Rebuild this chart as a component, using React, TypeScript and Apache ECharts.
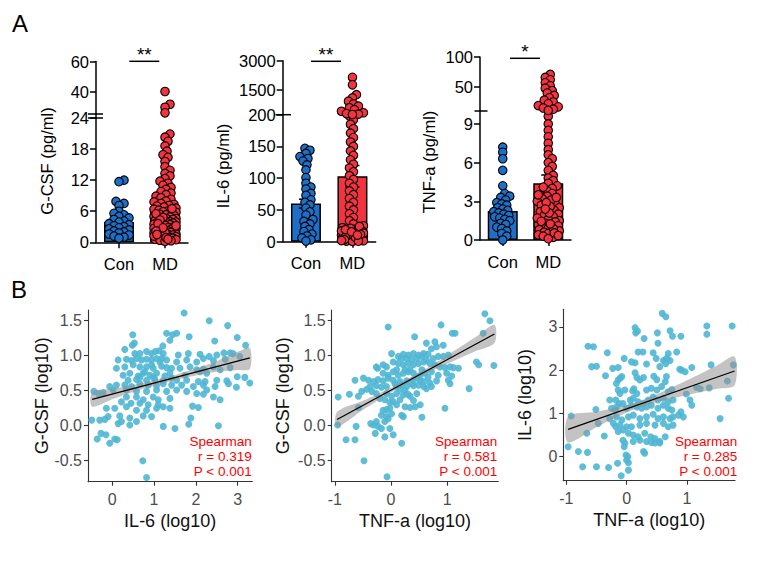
import React, { useEffect, useRef } from "react";
import * as echarts from "echarts";

const FONT = "'Liberation Sans', Arial, Helvetica, sans-serif";

// ---------- Panel A: cytokine levels by group ----------
const groups = ["Con", "MD"];
const groupColors = ["#1d6fc8", "#f5333f"];

// G-CSF (pg/ml)
const gcsfCon = [12.0, 11.7, 7.9, 7.5, 7.1, 6.0, 5.6, 5.3, 5.0, 4.7, 4.4, 4.1, 3.9, 3.6, 3.4, 3.2, 3.0, 2.8, 2.6, 2.4, 2.2, 2.0, 1.8, 1.6, 1.4, 1.2, 1.0, 0.8];
const gcsfMD = [40.0, 31.5, 29.5, 25.8, 20.9, 20.3, 19.5, 18.6, 17.6, 16.9, 16.4, 15.6, 14.6, 13.9, 13.3, 12.8, 12.3, 11.8, 11.4, 11.0, 10.6, 10.2, 9.8, 9.5, 9.2, 8.9, 8.6, 8.3, 8.0, 7.8, 7.5, 7.3, 7.1, 7.0, 6.8, 6.6, 6.4, 6.2, 6.0, 5.9, 5.8, 5.6, 5.4, 5.3, 5.2, 5.0, 4.9, 4.7, 4.6, 4.5, 4.4, 4.2, 4.1, 4.0, 3.9, 3.8, 3.7, 3.6, 3.5, 3.4, 3.3, 3.1, 3.0, 2.9, 2.8, 2.7, 2.6, 2.5, 2.4, 2.3, 2.2, 2.1, 2.0, 1.9, 1.8, 1.7, 1.6, 1.5, 1.4, 1.3, 1.2, 1.1, 1.0, 0.9, 0.8, 0.7, 0.6, 0.5, 0.4, 0.3, 0.2, 6.5, 5.5, 4.8, 4.3, 3.2, 2.6, 1.9, 1.2, 0.9, 0.6, 3.6, 2.8, 2.2, 1.5];
const gcsfMean = [3.9, 6.0];
const gcsfSem = [0.45, 0.5];
const gcsfLowerRange = [0, 24];
const gcsfUpperRange = [25, 60];
const gcsfLowerTicks = [0, 6, 12, 18, 24];
const gcsfUpperTicks = [40, 60];

// IL-6 (pg/ml)
const il6Con = [147, 144, 139, 134, 131, 127, 121, 113, 101, 92, 86, 83, 76, 73, 66, 62, 58, 53, 47, 42, 35, 32, 28, 24, 19, 16, 12, 9, 6, 3, 1];
const il6MD = [2140, 1750, 1240, 1070, 900, 760, 640, 560, 460, 380, 300, 260, 230, 210, 198, 192, 185, 178, 171, 164, 157, 150, 143, 136, 129, 122, 116, 110, 104, 98, 92, 86, 80, 74, 68, 62, 56, 50, 44, 38, 33, 28, 25, 22, 20, 18, 16, 15, 14, 13, 12, 11, 10, 9, 8, 7, 6, 5.5, 5, 4.5, 4, 3.5, 3, 2.5, 2, 1.5, 1, 0.5, 24, 21, 17, 13.5, 11.5, 9.5, 7.5, 6.5, 3.2, 1.8, 0.8, 19, 15.5, 10.5];
const il6Mean = [60, 103];
const il6Sem = [7, 17];
const il6LowerRange = [0, 200];
const il6UpperRange = [200, 3000];
const il6LowerTicks = [0, 50, 100, 150, 200];
const il6UpperTicks = [1500, 3000];

// TNF-a (pg/ml)
const tnfCon = [7.2, 6.8, 6.3, 5.4, 4.2, 3.6, 3.4, 3.3, 3.1, 2.9, 2.8, 2.7, 2.5, 2.4, 2.3, 2.2, 2.1, 2.0, 1.9, 1.8, 1.7, 1.6, 1.5, 1.3, 1.2, 1.0, 0.9, 0.7, 0.5, 0.3, 0.0];
const tnfMD = [71, 66, 62, 57, 52, 48, 44, 40, 36, 32, 28, 25, 22, 19, 17, 15, 13, 11, 9.6, 9.0, 8.5, 8.0, 7.5, 7.0, 6.6, 6.3, 6.0, 5.7, 5.4, 5.0, 4.8, 4.6, 4.4, 4.2, 4.0, 3.8, 3.6, 3.4, 3.2, 3.0, 2.8, 2.7, 2.5, 2.3, 2.2, 2.0, 1.9, 1.8, 1.6, 1.5, 1.4, 1.3, 1.2, 1.1, 1.0, 0.9, 0.8, 0.7, 0.6, 0.5, 0.4, 0.3, 0.2, 0.1, 3.1, 2.6, 1.7, 0.9, 2.1, 3.5, 1.25, 0.55, 4.1, 2.9, 1.45, 0.35, 2.4, 3.3];
const tnfMean = [2.25, 4.4];
const tnfSem = [0.3, 0.64];
const tnfLowerRange = [0, 10];
const tnfUpperRange = [10, 100];
const tnfLowerTicks = [0, 3, 6, 9];
const tnfUpperTicks = [50, 100];

// ---------- Panel B: log10 correlations ----------
// x = IL-6 (log10), y = G-CSF (log10)
const il6VsGcsf = [
  [1.72, 1.60], [2.32, 1.49], [2.76, 1.42], [1.30, 1.31], [1.44, 1.29], [1.54, 1.31], [0.49, 1.29], [0.53, 1.17], [0.48, 1.14], [1.84, 1.26],
  [2.45, 1.20], [2.99, 1.25], [3.19, 1.14], [1.38, 1.21], [1.21, 1.13], [0.30, 1.08], [0.54, 1.02], [0.66, 1.02], [0.82, 1.05], [0.94, 1.02],
  [1.03, 1.05], [1.12, 1.06], [1.22, 1.02], [1.58, 1.00], [1.82, 1.02], [2.10, 1.01], [2.32, 0.98], [2.50, 1.00], [2.67, 1.03], [2.82, 1.03],
  [2.89, 1.02], [3.05, 0.98], [0.14, 0.93], [0.34, 0.94], [0.46, 0.92], [0.58, 0.95], [0.70, 0.93], [0.82, 0.94], [0.94, 0.93], [1.06, 0.95],
  [1.18, 0.95], [1.30, 0.93], [1.54, 0.90], [1.78, 0.93], [2.02, 0.90], [2.18, 0.95], [2.42, 0.92], [2.70, 0.94], [0.10, 0.81], [0.30, 0.83],
  [0.50, 0.86], [0.66, 0.83], [0.82, 0.83], [0.98, 0.81], [1.18, 0.84], [1.30, 0.82], [1.42, 0.81], [1.62, 0.81], [1.86, 0.83], [2.02, 0.79],
  [2.18, 0.80], [2.42, 0.83], [2.58, 0.79], [2.82, 0.82], [0.26, 0.71], [0.42, 0.74], [0.62, 0.70], [0.74, 0.74], [0.90, 0.71], [1.06, 0.74],
  [1.26, 0.70], [1.38, 0.74], [1.74, 0.71], [2.10, 0.76], [2.26, 0.74], [0.38, 0.64], [0.58, 0.65], [0.82, 0.64], [1.02, 0.65], [1.22, 0.64],
  [1.42, 0.67], [1.54, 0.64], [1.78, 0.64], [2.06, 0.62], [2.22, 0.62], [2.50, 0.64], [2.74, 0.63], [2.99, 0.69], [3.17, 0.68], [-0.06, 0.55],
  [0.10, 0.57], [0.30, 0.57], [0.46, 0.55], [0.66, 0.59], [0.86, 0.57], [1.06, 0.56], [1.22, 0.59], [1.42, 0.57], [1.66, 0.57], [1.94, 0.55],
  [2.18, 0.57], [2.46, 0.55], [2.78, 0.59], [2.97, 0.54], [3.29, 0.60], [-0.44, 0.48], [-0.33, 0.45], [-0.22, 0.46], [0.02, 0.50], [0.34, 0.50],
  [0.58, 0.48], [0.82, 0.48], [1.06, 0.50], [1.30, 0.48], [1.54, 0.50], [1.78, 0.48], [2.02, 0.45], [2.26, 0.50], [0.34, 0.40], [0.58, 0.40],
  [0.74, 0.36], [0.98, 0.40], [1.10, 0.36], [1.38, 0.38], [2.18, 0.44], [2.42, 0.40], [2.58, 0.36], [0.22, 0.33], [0.45, 0.31], [0.66, 0.31],
  [0.86, 0.29], [1.10, 0.29], [1.22, 0.26], [1.38, 0.24], [0.34, 0.26], [0.58, 0.21], [0.82, 0.21], [1.06, 0.24], [1.92, 0.27], [2.06, 0.25],
  [-0.14, 0.24], [0.06, 0.24], [-0.10, 0.12], [0.18, 0.13], [0.42, 0.10], [0.74, 0.13], [0.94, 0.12], [-0.30, 0.07], [-0.18, 0.08], [1.88, 0.10],
  [-0.49, 0.07], [-0.36, -0.20], [-0.27, -0.12], [-0.15, -0.14], [-0.06, -0.26], [0.06, -0.20], [0.12, -0.21], [0.14, 0.02], [0.22, 0.05], [0.42, 0.00],
  [0.58, 0.05], [1.22, -0.02], [1.50, -0.05], [1.83, 0.01], [2.54, -0.01], [0.73, -0.51], [0.82, -0.75], [0.66, 0.68], [0.98, 0.68], [0.78, 0.76],
  [0.94, 0.86], [1.14, 0.90],
];
const fit1X = [-0.48, 3.29];
const fit1Y = [0.367, 0.96];
const band1X = [-0.48, 0.0, 0.5, 1.0, 1.5, 2.0, 2.5, 3.0, 3.29];
const band1Hi = [0.472, 0.517, 0.571, 0.638, 0.715, 0.807, 0.91, 1.045, 1.1];
const band1Lo = [0.262, 0.367, 0.471, 0.562, 0.641, 0.707, 0.76, 0.785, 0.8];

// x = TNF-a (log10), y = G-CSF (log10)
const tnfVsGcsf = [
  [1.67, 1.60], [1.76, 1.50], [-0.05, 1.41], [0.89, 1.44], [1.09, 1.32], [1.14, 1.32], [0.42, 1.27], [1.64, 1.32], [0.78, 1.20], [0.63, 1.18],
  [0.72, 1.10], [0.81, 1.13], [0.93, 1.15], [0.01, 1.03], [0.22, 1.02], [0.31, 1.01], [0.40, 1.03], [0.49, 1.01], [0.58, 1.03], [0.66, 1.02],
  [0.13, 0.99], [0.19, 0.96], [0.28, 0.96], [0.37, 0.94], [0.46, 0.96], [0.55, 0.99], [0.63, 0.94], [0.75, 0.96], [0.84, 0.99], [0.93, 0.99],
  [1.02, 1.01], [-0.26, 0.84], [-0.24, 0.82], [-0.14, 0.87], [-0.08, 0.84], [0.04, 0.91], [0.13, 0.89], [0.22, 0.87], [0.31, 0.89], [0.40, 0.87],
  [0.49, 0.89], [0.58, 0.91], [0.69, 0.89], [0.78, 0.87], [0.87, 0.84], [0.96, 0.83], [1.05, 0.84], [1.52, 0.91], [1.56, 0.87], [1.83, 0.86],
  [1.11, 0.83], [1.20, 0.82], [-0.14, 0.75], [-0.05, 0.72], [0.04, 0.77], [0.13, 0.72], [0.22, 0.75], [0.31, 0.77], [0.40, 0.75], [0.52, 0.72],
  [0.60, 0.75], [0.72, 0.77], [0.84, 0.72], [0.99, 0.75], [1.08, 0.71], [-0.49, 0.68], [-0.64, 0.65], [-0.40, 0.65], [-0.31, 0.63], [-0.23, 0.66],
  [-0.14, 0.64], [-0.05, 0.68], [0.04, 0.65], [0.16, 0.63], [0.28, 0.64], [0.40, 0.65], [0.52, 0.65], [0.58, 0.63], [0.69, 0.61], [0.81, 0.64],
  [1.02, 0.65], [1.05, 0.60], [-0.37, 0.56], [-0.26, 0.57], [-0.17, 0.55], [-0.08, 0.56], [0.10, 0.56], [0.19, 0.58], [0.28, 0.56], [0.40, 0.57],
  [0.49, 0.58], [0.58, 0.56], [0.63, 0.53], [0.72, 0.56], [1.39, 0.53], [-0.94, 0.41], [-0.74, 0.45], [-0.58, 0.42], [-0.52, 0.49], [-0.43, 0.52],
  [-0.34, 0.49], [-0.26, 0.46], [-0.08, 0.46], [0.01, 0.42], [0.10, 0.46], [0.22, 0.44], [0.34, 0.42], [0.46, 0.46], [-0.20, 0.39], [-0.11, 0.37],
  [0.04, 0.34], [0.16, 0.37], [0.25, 0.27], [0.34, 0.26], [0.43, 0.27], [0.52, 0.30], [0.96, 0.25], [-0.58, 0.26], [-0.14, 0.22], [-0.08, 0.23],
  [-0.02, 0.25], [-0.17, 0.15], [-0.08, 0.13], [0.01, 0.17], [0.19, 0.15], [0.22, 0.13], [0.55, 0.12], [-0.36, 0.03], [-0.26, 0.06], [-0.11, 0.06],
  [-0.05, 0.10], [-0.95, 0.01], [-0.62, -0.01], [-0.28, -0.11], [-0.11, -0.16], [0.04, -0.13], [-0.80, -0.20], [-0.64, -0.20], [0.19, -0.25], [-0.48, -0.50],
  [-0.07, -0.73], [-0.31, 0.01], [-0.23, -0.01], [-0.17, -0.04], [-0.02, -0.04], [0.25, 0.80], [0.34, 0.80], [0.10, 0.80], [0.55, 0.80], [0.66, 0.69],
  [0.46, 0.69], [0.07, 0.60], [0.37, 0.60], [0.25, 0.50], [0.16, 0.52], [-0.02, 0.33], [0.10, 0.30], [0.40, 0.36], [0.30, 0.45],
];
const fit2X = [-0.96, 1.84];
const fit2Y = [0.09, 1.31];
const band2X = [-0.96, -0.5, 0.0, 0.3, 0.6, 1.0, 1.5, 1.84];
const band2Hi = [0.195, 0.355, 0.543, 0.669, 0.805, 1.004, 1.262, 1.44];
const band2Lo = [-0.015, 0.225, 0.473, 0.609, 0.735, 0.884, 1.062, 1.18];

// x = TNF-a (log10), y = IL-6 (log10)
const tnfVsIl6 = [
  [0.59, 3.31], [0.65, 3.23], [0.14, 2.98], [0.15, 2.86], [0.18, 2.90], [1.33, 3.02], [1.75, 3.02], [1.33, 2.83], [0.29, 2.73], [0.51, 2.86],
  [0.72, 2.91], [0.76, 2.78], [0.90, 2.78], [0.52, 2.62], [-0.64, 2.55], [-0.55, 2.54], [0.19, 2.42], [0.27, 2.42], [-0.32, 2.40], [0.44, 2.40],
  [0.69, 2.38], [0.72, 2.22], [0.83, 2.42], [0.66, 2.27], [-0.58, 2.08], [-0.50, 2.09], [-0.04, 2.27], [0.08, 2.19], [0.14, 2.17], [0.49, 2.27],
  [0.61, 2.22], [0.65, 2.15], [0.55, 2.08], [-0.23, 2.04], [-0.14, 2.06], [0.33, 2.14], [0.88, 2.02], [0.91, 2.00], [0.97, 1.96], [1.08, 2.06],
  [1.40, 2.12], [1.77, 2.12], [-0.35, 1.87], [-0.11, 1.81], [-0.08, 1.85], [-0.14, 1.77], [-0.17, 1.69], [0.14, 1.94], [0.17, 1.83], [0.22, 1.77],
  [0.28, 1.83], [0.45, 1.86], [0.50, 1.78], [0.66, 1.85], [0.64, 1.73], [-0.14, 1.54], [-0.11, 1.46], [-0.03, 1.54], [0.10, 1.52], [0.12, 1.57],
  [0.17, 1.46], [0.33, 1.54], [0.41, 1.58], [0.50, 1.54], [0.58, 1.62], [0.69, 1.50], [0.75, 1.55], [1.16, 1.60], [0.99, 1.45], [1.05, 1.31],
  [1.08, 1.19], [1.22, 1.57], [1.37, 1.59], [1.67, 1.75], [-0.18, 1.31], [-0.12, 1.23], [-0.06, 1.23], [-0.19, 1.08], [0.06, 1.31], [0.11, 1.35],
  [0.19, 1.27], [0.28, 1.23], [0.36, 1.31], [0.44, 1.38], [0.52, 1.31], [0.61, 1.35], [0.69, 1.27], [0.77, 1.31], [-0.28, 1.31], [-0.51, 1.09],
  [-0.25, 1.12], [-0.17, 1.15], [0.00, 1.12], [0.08, 1.19], [0.17, 1.15], [0.25, 1.12], [0.33, 1.15], [0.41, 1.19], [0.52, 1.12], [0.61, 1.19],
  [0.69, 1.12], [0.75, 1.08], [0.90, 1.04], [0.94, 0.92], [1.69, 1.35], [1.55, 0.88], [-0.92, 0.94], [-0.28, 0.88], [-0.17, 0.92], [-0.08, 0.85],
  [0.03, 0.92], [0.11, 0.96], [0.22, 0.88], [0.33, 0.92], [0.44, 0.98], [0.52, 0.88], [0.61, 0.92], [0.72, 0.88], [0.77, 0.92], [0.86, 0.96],
  [-0.47, 0.77], [-0.22, 0.77], [-0.11, 0.73], [0.00, 0.69], [0.08, 0.69], [0.22, 0.73], [0.33, 0.77], [0.47, 0.73], [0.61, 0.77], [0.69, 0.69],
  [0.77, 0.73], [-0.66, 0.54], [-0.37, 0.48], [-0.18, 0.69], [-0.14, 0.58], [-0.06, 0.62], [0.03, 0.54], [0.11, 0.50], [0.19, 0.46], [0.30, 0.54],
  [0.40, 0.46], [0.47, 0.42], [0.55, 0.35], [0.64, 0.46], [0.11, 0.35], [0.22, 0.38], [0.33, 0.35], [0.41, 0.33], [0.47, 0.32], [0.55, 0.32],
  [-0.06, 0.38], [-0.03, 0.31], [-0.04, 0.23], [-0.97, 0.23], [-0.80, 0.12], [-0.65, 0.10], [0.28, 0.12], [0.30, 0.08], [-0.01, 0.04], [0.02, 0.00],
  [0.00, -0.08], [-0.73, -0.23], [-0.50, -0.23], [-0.30, -0.25], [-0.15, -0.15], [0.03, -0.14], [0.03, -0.31], [-0.09, -0.44],
];
const fit3X = [-0.97, 1.79];
const fit3Y = [0.63, 1.98];
const band3X = [-0.97, -0.5, 0.0, 0.25, 0.5, 1.0, 1.5, 1.79];
const band3Hi = [0.93, 1.04, 1.189, 1.302, 1.439, 1.764, 2.108, 2.31];
const band3Lo = [0.33, 0.68, 1.019, 1.152, 1.259, 1.424, 1.568, 1.65];

// ---------- layout ----------
const barPanels = [
  {
    title: "G-CSF (pg/ml)", con: gcsfCon, md: gcsfMD, mean: gcsfMean, sem: gcsfSem,
    lowerRange: gcsfLowerRange, upperRange: gcsfUpperRange, lowerTicks: gcsfLowerTicks, upperTicks: gcsfUpperTicks,
    stars: "**",
    box: { left: 96, width: 92, lowerTop: 118, bottom: 242.3, upperTop: 61.5, upperBottom: 114 },
    titlePos: [47, 161], sig: { x1: 129.3, x2: 159.3, y: 61.3 },
    breakMarks: [{ y: 114, x1: 88, x2: 103 }, { y: 118, x1: 88, x2: 103 }],
  },
  {
    title: "IL-6 (pg/ml)", con: il6Con, md: il6MD, mean: il6Mean, sem: il6Sem,
    lowerRange: il6LowerRange, upperRange: il6UpperRange, lowerTicks: il6LowerTicks, upperTicks: il6UpperTicks,
    stars: "**",
    box: { left: 282.7, width: 93, lowerTop: 114.7, bottom: 241.7, upperTop: 60.7, upperBottom: 114.7 },
    titlePos: [223, 166], sig: { x1: 311, x2: 341, y: 61.3 },
    breakMarks: [{ y: 114.7, x1: 275.5, x2: 291 }],
  },
  {
    title: "TNF-a (pg/ml)", con: tnfCon, md: tnfMD, mean: tnfMean, sem: tnfSem,
    lowerRange: tnfLowerRange, upperRange: tnfUpperRange, lowerTicks: tnfLowerTicks, upperTicks: tnfUpperTicks,
    stars: "*",
    box: { left: 480, width: 91, lowerTop: 111, bottom: 240, upperTop: 57, upperBottom: 111 },
    titlePos: [429, 162], sig: { x1: 510, x2: 540, y: 58.3 },
    breakMarks: [{ y: 111, x1: 474.5, x2: 487.5 }],
  },
];

const scatterPanels = [
  {
    points: il6VsGcsf, fitX: fit1X, fitY: fit1Y, bandX: band1X, bandHi: band1Hi, bandLo: band1Lo,
    xRange: [-0.58, 3.35], yRange: [-0.81, 1.643], xTicks: [0, 1, 2, 3], yTicks: [-0.5, 0, 0.5, 1, 1.5], yDecimals: 1,
    xTitle: "IL-6 (log10)", yTitle: "G-CSF (log10)", stat: ["Spearman", "r = 0.319", "P < 0.001"],
    box: { left: 88, top: 310, width: 164.3, height: 171.7 }, yNameGap: 37, statRight: 251.7,
  },
  {
    points: tnfVsGcsf, fitX: fit2X, fitY: fit2Y, bandX: band2X, bandHi: band2Hi, bandLo: band2Lo,
    xRange: [-1.055, 1.909], yRange: [-0.8, 1.653], xTicks: [-1, 0, 1], yTicks: [-0.5, 0, 0.5, 1, 1.5], yDecimals: 1,
    xTitle: "TNF-a (log10)", yTitle: "G-CSF (log10)", stat: ["Spearman", "r = 0.581", "P < 0.001"],
    box: { left: 331.7, top: 310, width: 166.6, height: 171.7 }, yNameGap: 40, statRight: 497.3,
  },
  {
    points: tnfVsIl6, fitX: fit3X, fitY: fit3Y, bandX: band3X, bandHi: band3Hi, bandLo: band3Lo,
    xRange: [-1.05, 1.797], yRange: [-0.554, 3.404], xTicks: [-1, 0, 1], yTicks: [0, 1, 2, 3], yDecimals: 0,
    xTitle: "TNF-a (log10)", yTitle: "IL-6 (log10)", stat: ["Spearman", "r = 0.285", "P < 0.001"],
    box: { left: 563.3, top: 309.3, width: 171.7, height: 171.4 }, yNameGap: 29, statRight: 737.3,
  },
];

const DOT = 8.5;
const SWARM_HALF = 11;
const SWARM_GAP = 0.6; // allowed overlap between neighbouring dots (fraction of a diameter)

// Simple beeswarm: places each dot at the smallest sideways offset (px) that
// keeps it clear of dots already placed, falling back to the least crowded spot.
function swarmOffsets(values: number[], pxPerUnit: number, dist: number, maxHalf: number): number[] {
  const ys = values.map((v) => -v * pxPerUnit);
  const order = values.map((_, i) => i).sort((a, b) => values[a] - values[b]);
  const cands: number[] = [0];
  for (let k = 1; k <= maxHalf; k++) cands.push(k, -k);
  const placed: number[][] = [];
  const out = new Array(values.length).fill(0);
  for (const i of order) {
    const y = ys[i];
    let best = 0;
    let bestD = -1;
    for (const c of cands) {
      let minD = Infinity;
      for (const p of placed) {
        const dy = p[1] - y;
        if (Math.abs(dy) >= dist) continue;
        const d = Math.hypot(p[0] - c, dy);
        if (d < minD) minD = d;
      }
      if (minD >= dist) {
        best = c;
        break;
      }
      if (minD > bestD) {
        bestD = minD;
        best = c;
      }
    }
    placed.push([best, y]);
    out[i] = best;
  }
  return out;
}

function buildOption() {
  const grid: any[] = [];
  const xAxis: any[] = [];
  const yAxis: any[] = [];
  const series: any[] = [];
  const graphic: any[] = [];

  const black = { color: "#000", width: 1.5 };
  const lineEl = (x1: number, y1: number, x2: number, y2: number, stroke = "#000", w = 1.5) => ({
    type: "line", silent: true, shape: { x1, y1, x2, y2 }, style: { stroke, lineWidth: w },
  });
  const textEl = (text: string, x: number, y: number, size: number, fill: string, align: string, vAlign: string, rotation = 0) => ({
    type: "text", silent: true, x, y, rotation,
    style: { text, fontSize: size, fontFamily: FONT, fill, align, textAlign: align, verticalAlign: vAlign, textVerticalAlign: vAlign },
  });

  // Panel A
  barPanels.forEach((p) => {
    const b = p.box;
    const gL = grid.push({ left: b.left, top: b.lowerTop, width: b.width, height: b.bottom - b.lowerTop }) - 1;
    const gU = grid.push({ left: b.left, top: b.upperTop, width: b.width, height: b.upperBottom - b.upperTop }) - 1;

    const xCat = xAxis.push({
      type: "category", gridIndex: gL, data: groups,
      axisLine: { show: true, lineStyle: black },
      axisTick: { show: true, alignWithLabel: true, length: 6, lineStyle: black },
      axisLabel: { fontSize: 16.5, color: "#000", margin: 13, fontFamily: FONT },
    }) - 1;
    const xValL = xAxis.push({ type: "value", gridIndex: gL, min: 0, max: 2, show: false }) - 1;
    const xValU = xAxis.push({ type: "value", gridIndex: gU, min: 0, max: 2, show: false }) - 1;

    const yAx = (gi: number, range: number[], ticks: number[]) => ({
      type: "value", gridIndex: gi, min: range[0], max: range[1],
      axisLine: { show: true, onZero: false, lineStyle: black },
      axisTick: { show: true, length: 6, customValues: ticks, lineStyle: black },
      axisLabel: {
        customValues: ticks, fontSize: 16.5, color: "#000", margin: 7, fontFamily: FONT,
        formatter: (v: number) => String(v),
      },
      splitLine: { show: false },
    });
    const yL = yAxis.push(yAx(gL, p.lowerRange, p.lowerTicks)) - 1;
    const yU = yAxis.push(yAx(gU, p.upperRange, p.upperTicks)) - 1;

    series.push({
      type: "bar", xAxisIndex: xCat, yAxisIndex: yL, barWidth: 30, silent: true,
      data: p.mean.map((m, i) => ({ value: m, itemStyle: { color: groupColors[i] } })),
      itemStyle: { borderColor: "#000", borderWidth: 1.5 },
      z: 1,
    });

    // mean ± SEM, beneath the dots
    series.push({
      type: "custom", xAxisIndex: xValL, yAxisIndex: yL, silent: true, z: 2,
      data: p.mean.map((m, i) => [i + 0.5, m, p.sem[i]]),
      encode: { x: 0, y: 1 },
      renderItem: (_params: any, api: any) => {
        const x = api.value(0);
        const m = api.value(1);
        const s = api.value(2);
        const top = api.coord([x, m + s]);
        const bot = api.coord([x, Math.max(m - s, 0)]);
        const st = { stroke: "#000", lineWidth: 1.5 };
        return {
          type: "group",
          children: [
            { type: "line", shape: { x1: top[0], y1: top[1], x2: bot[0], y2: bot[1] }, style: st },
            { type: "line", shape: { x1: top[0] - 7, y1: top[1], x2: top[0] + 7, y2: top[1] }, style: st },
            { type: "line", shape: { x1: bot[0] - 7, y1: bot[1], x2: bot[0] + 7, y2: bot[1] }, style: st },
          ],
        };
      },
    });

    const lowerPx = (b.bottom - b.lowerTop) / (p.lowerRange[1] - p.lowerRange[0]);
    const upperPx = (b.upperBottom - b.upperTop) / (p.upperRange[1] - p.upperRange[0]);
    const xPerPx = 2 / b.width;

    [p.con, p.md].forEach((vals, gi) => {
      const center = gi + 0.5;
      const lo = vals.filter((v) => v <= p.lowerRange[1]);
      const hi = vals.filter((v) => v > p.lowerRange[1]);
      const loOff = swarmOffsets(lo, lowerPx, DOT * SWARM_GAP, SWARM_HALF);
      const hiOff = swarmOffsets(hi, upperPx, DOT * SWARM_GAP, SWARM_HALF);
      const style = { color: groupColors[gi], borderColor: "#000", borderWidth: 1.1, opacity: 1 };
      series.push({
        type: "scatter", xAxisIndex: xValL, yAxisIndex: yL, symbolSize: DOT, silent: true, z: 3,
        itemStyle: style, data: lo.map((v, i) => [center + loOff[i] * xPerPx, v]),
      });
      if (hi.length) {
        series.push({
          type: "scatter", xAxisIndex: xValU, yAxisIndex: yU, symbolSize: DOT, silent: true, z: 3,
          itemStyle: style, data: hi.map((v, i) => [center + hiOff[i] * xPerPx, v]),
        });
      }
    });

    // axis break marks
    p.breakMarks.forEach((m) => graphic.push(lineEl(m.x1, m.y, m.x2, m.y)));
    if (b.lowerTop > b.upperBottom) graphic.push(lineEl(b.left, b.upperBottom, b.left, b.lowerTop));

    // significance bracket
    graphic.push(lineEl(p.sig.x1, p.sig.y, p.sig.x2, p.sig.y));
    graphic.push(textEl(p.stars, (p.sig.x1 + p.sig.x2) / 2, p.sig.y - 7, 19, "#000", "center", "middle"));

    // y title
    graphic.push(textEl(p.title, p.titlePos[0], p.titlePos[1], 16.5, "#000", "center", "middle", Math.PI / 2));
  });

  // Panel B
  scatterPanels.forEach((p) => {
    const g = grid.push({ ...p.box }) - 1;
    const axisLine = { show: true, onZero: false, lineStyle: { color: "#333", width: 1.1 } };
    const xi = xAxis.push({
      type: "value", gridIndex: g, min: p.xRange[0], max: p.xRange[1],
      axisLine, axisTick: { show: true, length: 4, customValues: p.xTicks, lineStyle: { color: "#333", width: 1.1 } },
      axisLabel: { customValues: p.xTicks, fontSize: 16, color: "#4d4d4d", margin: 10, fontFamily: FONT },
      splitLine: { show: false },
      name: p.xTitle, nameLocation: "middle", nameGap: 30,
      nameTextStyle: { fontSize: 18, color: "#111", fontFamily: FONT },
    }) - 1;
    const yi = yAxis.push({
      type: "value", gridIndex: g, min: p.yRange[0], max: p.yRange[1],
      axisLine, axisTick: { show: true, length: 4, customValues: p.yTicks, lineStyle: { color: "#333", width: 1.1 } },
      axisLabel: {
        customValues: p.yTicks, fontSize: 16, color: "#4d4d4d", margin: 6, fontFamily: FONT,
        formatter: (v: number) => v.toFixed(p.yDecimals),
      },
      splitLine: { show: false },
      name: p.yTitle, nameLocation: "middle", nameGap: p.yNameGap,
      nameTextStyle: { fontSize: 18, color: "#111", fontFamily: FONT },
    }) - 1;

    series.push({
      type: "scatter", xAxisIndex: xi, yAxisIndex: yi, symbolSize: 7, silent: true, z: 2,
      itemStyle: { color: "#4eb6d4", opacity: 0.9 }, data: p.points,
    });
    series.push({
      type: "custom", xAxisIndex: xi, yAxisIndex: yi, silent: true, z: 3,
      data: [[p.bandX[0], p.bandLo[0]]], encode: { x: 0, y: 1 },
      renderItem: (_params: any, api: any) => {
        const pts: number[][] = [];
        p.bandX.forEach((x, i) => pts.push(api.coord([x, p.bandHi[i]])));
        for (let i = p.bandX.length - 1; i >= 0; i--) pts.push(api.coord([p.bandX[i], p.bandLo[i]]));
        return { type: "polygon", shape: { points: pts, smooth: 0.3 }, style: { fill: "rgba(145,145,145,0.55)" } };
      },
    });
    series.push({
      type: "line", xAxisIndex: xi, yAxisIndex: yi, silent: true, z: 4, showSymbol: false, symbol: "none",
      lineStyle: { color: "#000", width: 1.2 },
      data: p.fitX.map((x, i) => [x, p.fitY[i]]),
    });

    p.stat.forEach((s, i) => graphic.push(textEl(s, p.statRight, 441.7 + i * 15, 13.5, "#ff0000", "right", "middle")));
  });

  graphic.push(textEl("A", 12, 35, 24, "#000", "left", "bottom"));
  graphic.push(textEl("B", 11, 301, 24, "#000", "left", "bottom"));

  return {
    animation: false,
    backgroundColor: "#fff",
    textStyle: { fontFamily: FONT },
    grid, xAxis, yAxis, series, graphic,
  };
}

export default function App() {
  const ref = useRef<HTMLDivElement>(null);
  useEffect(() => {
    const chart = echarts.init(ref.current as HTMLDivElement, null, { renderer: "svg" });
    chart.setOption(buildOption() as any);
    return () => chart.dispose();
  }, []);
  return (
    <div
      ref={ref}
      style={{ position: "absolute", left: 0, top: 0, width: 763, height: 566, background: "#fff" }}
    />
  );
}
